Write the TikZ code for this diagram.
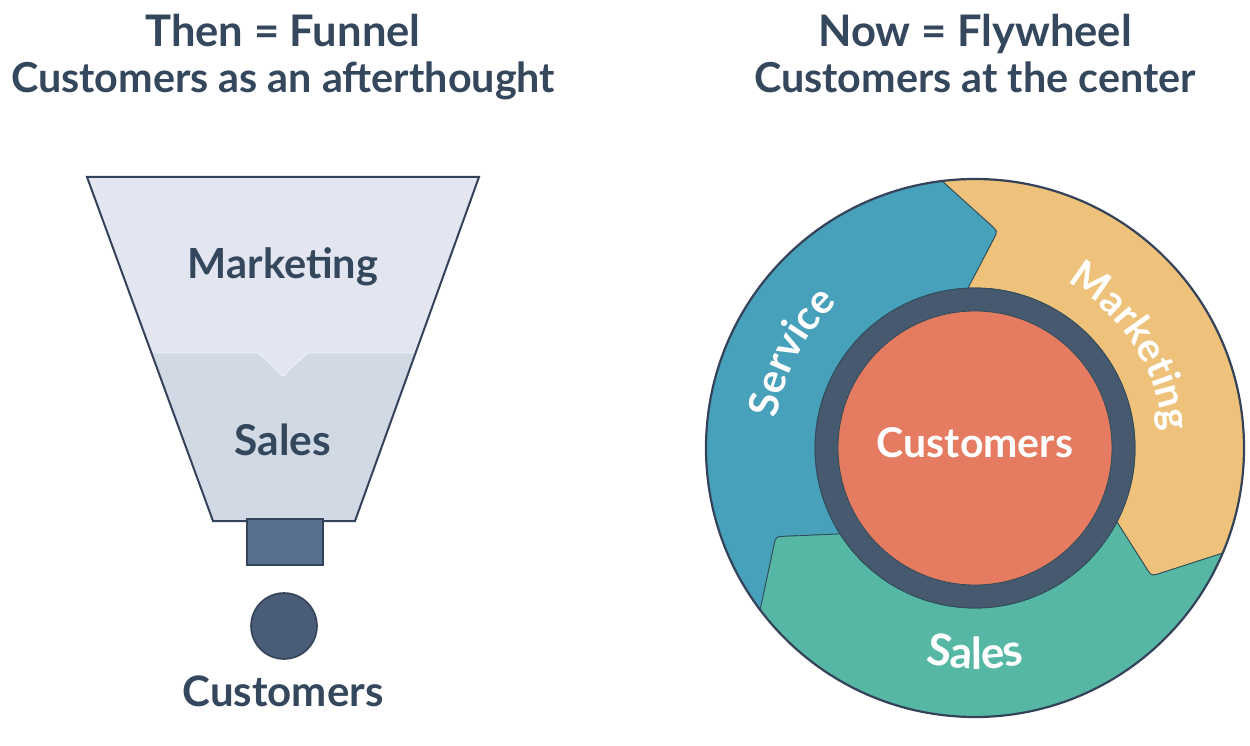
\documentclass[tikz,border=0pt]{standalone}
\usepackage{fontspec}
\setmainfont{Lato}
\usetikzlibrary{decorations.text,calc}
\definecolor{ink}{HTML}{34475C}
\definecolor{fTop}{HTML}{E3E6F0}
\definecolor{fLow}{HTML}{D0D9E4}
\definecolor{fLine}{HTML}{34435A}
\definecolor{stemC}{HTML}{58708F}
\definecolor{dotC}{HTML}{4A5D78}
\definecolor{cService}{HTML}{48A1BA}
\definecolor{cMarket}{HTML}{EEC27B}
\definecolor{cSales}{HTML}{56B8A4}
\definecolor{cRing}{HTML}{46596F}
\definecolor{cCore}{HTML}{E57C61}
\definecolor{segLine}{HTML}{2F4A58}
\newcommand\fsz[1]{\fontsize{#1}{#1}\selectfont}
\tikzset{
  ttl/.style={anchor=base, text=ink, font=\fsz{43.5}\bfseries, inner sep=0},
  sub/.style={anchor=base, text=ink, font=\fsz{41.3}\bfseries, inner sep=0},
  flab/.style={anchor=base, text=ink, font=\fsz{41.5}\bfseries, inner sep=0},
  seg/.style={draw=segLine, line width=0.8},
}
\begin{document}
\begin{tikzpicture}[x=1pt,y=1pt]
\useasboundingbox[fill=white] (0,0) rectangle (1250,-746);

% titles
\node[ttl] (t1) at (283,-47) {Then = Funnel};
\node[sub] (s1) at (283,-93) {Customers as an afterthought};
\node[ttl] (t2) at (975,-47) {Now = Flywheel};
\node[sub] (s2) at (975,-93) {Customers at the center};

% funnel
\coordinate (TL) at (87,-177);
\coordinate (TR) at (479,-177);
\coordinate (BR) at (355,-521);
\coordinate (BL) at (213,-521);
\coordinate (ML) at ($(TL)!0.5116!(BL)$);
\coordinate (MR) at ($(TR)!0.5116!(BR)$);
\fill[fLow] (TL) -- (TR) -- (BR) -- (BL) -- cycle;
\fill[fTop] (TL) -- (TR) -- (MR) -- (308,-353) -- (288,-371) .. controls (283,-378) .. (278,-371) -- (258,-353) -- (ML) -- cycle;
\draw[white, opacity=0.6, line width=0.8] (ML) -- (258,-353) -- (278,-371) .. controls (283,-378) .. (288,-371) -- (308,-353) -- (MR);
\draw[fLine, line width=2, line join=miter] (TL) -- (TR) -- (BR) -- (BL) -- cycle;
\filldraw[fill=stemC, draw=fLine, line width=1.6] (247,-519) rectangle (323,-565);
\filldraw[fill=dotC, draw=fLine, line width=1.6] (284,-626) circle[radius=33];
\node[flab] (fm) at (283,-278) {Marketing};
\node[flab, font=\fsz{42.5}\bfseries] (fs) at (283,-455) {Sales};
\node[flab, font=\fsz{42}\bfseries] (fc) at (283,-706) {Customers};

% flywheel
\begin{scope}[shift={(975,-448)}]
\coordinate (O1) at (97:269);   \coordinate (T1) at (84:218);   \coordinate (I1) at (92.5:160);
\coordinate (O2) at (-23:269);  \coordinate (T2) at (-36:218);  \coordinate (I2) at (-27.5:160);
\coordinate (O3) at (217:269);  \coordinate (T3) at (204:218);  \coordinate (I3) at (212.5:160);
% service
\path[seg, fill=cService] (O3) arc[start angle=217, end angle=97, radius=269]
  -- ($(T1)!9pt!(O1)$) .. controls (T1) .. ($(T1)!9pt!(I1)$) -- (I1)
  arc[start angle=92.5, end angle=212.5, radius=160]
  -- ($(T3)!9pt!(I3)$) .. controls (T3) .. ($(T3)!9pt!(O3)$) -- cycle;
% marketing
\path[seg, fill=cMarket] (O1) arc[start angle=97, end angle=-23, radius=269]
  -- ($(T2)!9pt!(O2)$) .. controls (T2) .. ($(T2)!9pt!(I2)$) -- (I2)
  arc[start angle=-27.5, end angle=92.5, radius=160]
  -- ($(T1)!9pt!(I1)$) .. controls (T1) .. ($(T1)!9pt!(O1)$) -- cycle;
% sales
\path[seg, fill=cSales] (O2) arc[start angle=-23, end angle=-143, radius=269]
  -- ($(T3)!9pt!(O3)$) .. controls (T3) .. ($(T3)!9pt!(I3)$) -- (I3)
  arc[start angle=212.5, end angle=332.5, radius=160]
  -- ($(T2)!9pt!(I2)$) .. controls (T2) .. ($(T2)!9pt!(O2)$) -- cycle;
\draw[fLine, line width=2.2] (0,0) circle[radius=269];
\filldraw[fill=cRing, draw=segLine, line width=0.8] (0,0) circle[radius=160];
\filldraw[fill=cCore, draw=segLine, line width=0.8] (0,0) circle[radius=137];
\node[anchor=base, text=white, font=\fsz{41}\bfseries, inner sep=0] (cc) at (0,-9) {Customers};
\path[decorate, decoration={text along path, text align=center,
   text={|\fsz{41}\bfseries\color{white}|Service}}]
   (180:200) arc[start angle=180, end angle=125, radius=200];
\path[decorate, decoration={text along path, text align=center,
   text={|\fsz{40}\bfseries\color{white}|Marketing}}]
   (66:189) arc[start angle=66, end angle=0, radius=189];
\path[decorate, decoration={text along path, text align=center,
   text={|\fsz{44}\bfseries\color{white}|Sales}}]
   (-125:221) arc[start angle=-125, end angle=-55, radius=221];
\end{scope}
\end{tikzpicture}
\end{document}
